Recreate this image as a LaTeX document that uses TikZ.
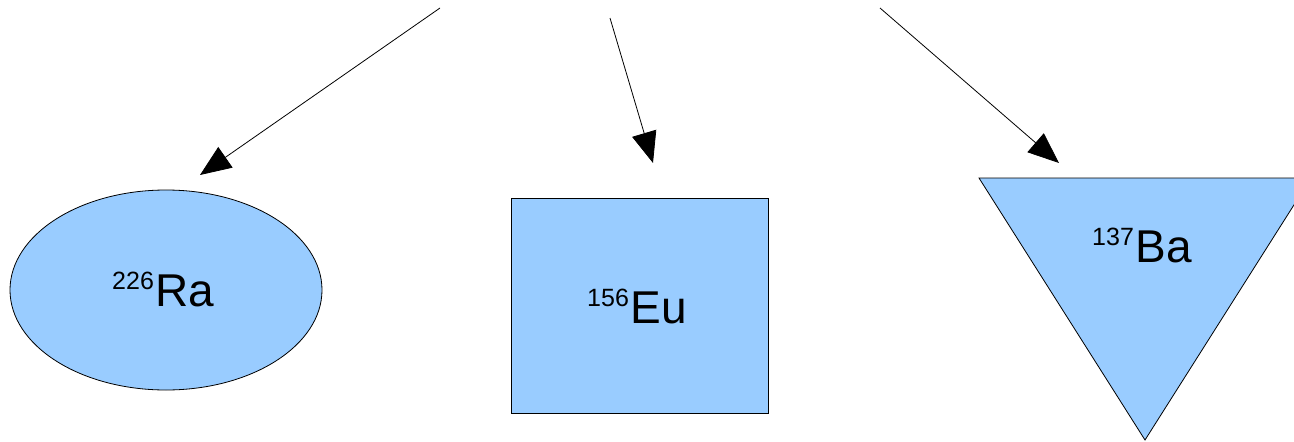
\documentclass[tikz,border=0pt]{standalone}
\usepackage{fontspec}
\setmainfont{Liberation Sans}
\usetikzlibrary{shapes.geometric,arrows.meta}
\definecolor{shapeblue}{HTML}{99CCFF}
\tikzset{
  shapefill/.style={draw=black, line width=0.8pt, fill=shapeblue},
  conn/.style={draw=black, line width=0.8pt, -{Triangle[length=31pt,width=25pt]}},
  lbl/.style={anchor=base west, inner sep=0pt, font=\fontsize{46}{52}\selectfont},
}
\newcommand{\isotope}[2]{{\fontsize{25}{28}\selectfont\raisebox{17pt}{#1}}\kern1.5pt#2}
\begin{document}
\begin{tikzpicture}[x=1pt,y=-1pt]
\useasboundingbox (0,0) rectangle (1294,442);
\clip (0,0) rectangle (1294,442);
\fill[white] (0,0) rectangle (1294,442);
% shapes
\node[shapefill, ellipse, minimum width=312pt, minimum height=200pt, inner sep=0pt] (ra) at (166,290) {};
\node[shapefill, rectangle, minimum width=257pt, minimum height=215pt, inner sep=0pt] (eu) at (639.5,305.5) {};
\coordinate (baL) at (979,178);
\coordinate (baR) at (1311,178);
\coordinate (baB) at (1145,440);
\path[shapefill] (baL) -- (baR) -- (baB) -- cycle;
% labels
\node[lbl] (raT) at (112,306) {\isotope{226}{Ra}};
\node[lbl] (euT) at (587,323) {\isotope{156}{Eu}};
\node[lbl] (baT) at (1092,262) {\isotope{137}{Ba}};
% connectors
\coordinate (s1) at (440,8);  \coordinate (e1) at (200,175);
\coordinate (s2) at (610,18); \coordinate (e2) at (653,163);
\coordinate (s3) at (880,8);  \coordinate (e3) at (1059,163);
\draw[conn] (s1) -- (e1);
\draw[conn] (s2) -- (e2);
\draw[conn] (s3) -- (e3);
\end{tikzpicture}
\end{document}
